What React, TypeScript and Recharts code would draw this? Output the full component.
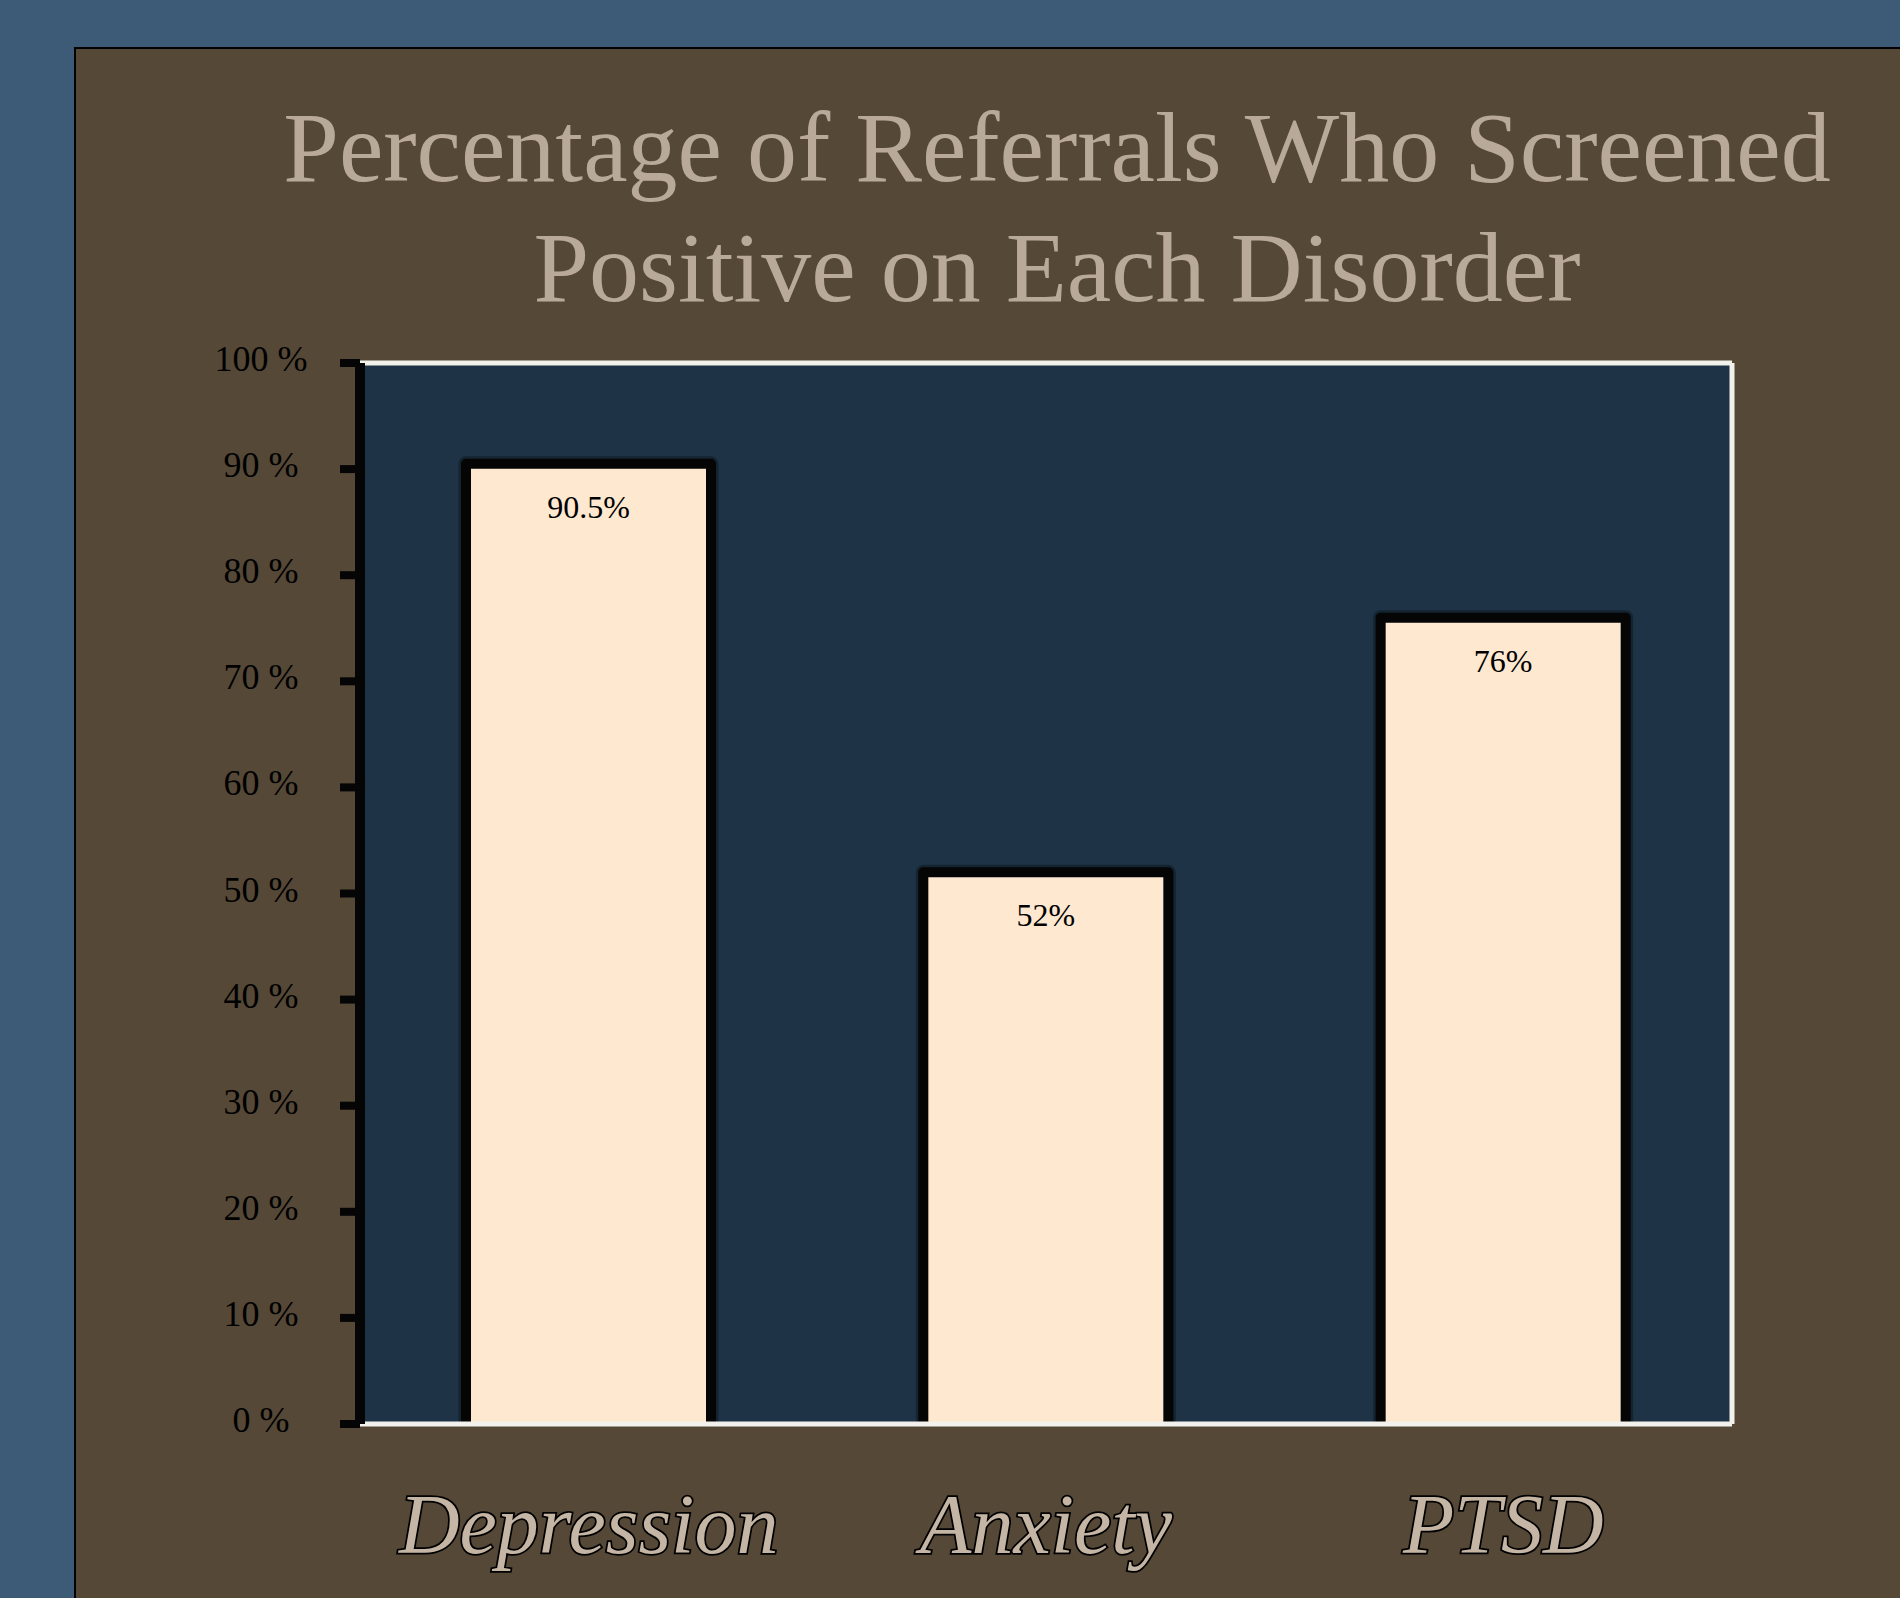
import React from "react";
import { BarChart, Bar, XAxis, YAxis, CartesianGrid, LabelList } from "recharts";

const categories = ["Depression", "Anxiety", "PTSD"];
const positiveRates = [90.5, 52, 76];
const rateLabels = ["90.5%", "52%", "76%"];
const yTicks = [0, 10, 20, 30, 40, 50, 60, 70, 80, 90, 100];
const titleLines = ["Percentage of Referrals Who Screened", "Positive on Each Disorder"];

const data = categories.map((name, i) => ({
  name,
  value: positiveRates[i],
  label: rateLabels[i],
}));

const SERIF = '"Liberation Serif", "Times New Roman", serif';

// bar with black outline on three sides (the base sits on the white axis line)
const OutlinedBar = (props: any) => {
  const { x, y, width, height } = props;
  const outline = `M${x},${y + height} L${x},${y} L${x + width},${y} L${x + width},${y + height}`;
  return (
    <g>
      <path d={outline} fill="none" stroke="#000" strokeOpacity={0.3} strokeWidth={15} strokeLinejoin="round" />
      <rect x={x} y={y} width={width} height={height} fill="#fee8d0" />
      <path d={outline} fill="none" stroke="#050505" strokeWidth={10} strokeLinejoin="round" />
    </g>
  );
};

const YTick = (props: any) => {
  const { x, y, payload } = props;
  return (
    <text x={x - 34} y={y - 4} textAnchor="middle" dominantBaseline="central" fontFamily={SERIF} fontSize={36} fill="#000">
      {`${payload.value} %`}
    </text>
  );
};

const XTick = (props: any) => {
  const { x, y, payload } = props;
  return (
    <text
      x={x}
      y={y + 121}
      textAnchor="middle"
      fontFamily={SERIF}
      fontStyle="italic"
      fontSize={84}
      fill="#c4b5a4"
      stroke="#000"
      strokeWidth={3.5}
      paintOrder="stroke"
    >
      {payload.value}
    </text>
  );
};

const ValueLabel = (props: any) => {
  const { x, y, width, value } = props;
  return (
    <text x={x + width / 2} y={y + 43} textAnchor="middle" dominantBaseline="central" fontFamily={SERIF} fontSize={32} fill="#000">
      {value}
    </text>
  );
};

export default function App() {
  return (
    <div style={{ position: "absolute", left: 0, top: 0, width: 1900, height: 1598, background: "#3d5a77", overflow: "hidden" }}>
      <div
        style={{
          position: "absolute",
          left: 74,
          top: 47,
          width: 1900,
          height: 1700,
          background: "#554837",
          border: "2px solid #000",
        }}
      />
      {titleLines.map((line, i) => (
        <div
          key={line}
          style={{
            position: "absolute",
            left: 57,
            top: 98 + i * 120,
            width: 2000,
            textAlign: "center",
            fontFamily: SERIF,
            fontSize: 100,
            lineHeight: "100px",
            color: "#b8a999",
            whiteSpace: "nowrap",
          }}
        >
          {line}
        </div>
      ))}
      <div style={{ position: "absolute", left: 0, top: 0 }}>
        <BarChart
          width={1900}
          height={1598}
          data={data}
          margin={{ top: 363, right: 168, bottom: 74, left: 260 }}
          barSize={245}
        >
          {/* navy plot background with a white edge on the top and right */}
          <CartesianGrid
            fill="#1e3345"
            stroke="#f3f1ec"
            strokeWidth={5}
            horizontalCoordinatesGenerator={({ offset }: any) => [offset.top]}
            verticalCoordinatesGenerator={({ offset }: any) => [offset.left + offset.width]}
          />
          <XAxis
            dataKey="name"
            height={100}
            tickLine={false}
            axisLine={{ stroke: "#f3f1ec", strokeWidth: 5 }}
            tick={<XTick />}
            interval={0}
          />
          <YAxis
            width={100}
            domain={[0, 100]}
            ticks={yTicks}
            interval={0}
            tickSize={20}
            tickMargin={45}
            tickLine={{ stroke: "#050505", strokeWidth: 8 }}
            axisLine={{ stroke: "#050505", strokeWidth: 10 }}
            tick={<YTick />}
          />
          <Bar dataKey="value" shape={<OutlinedBar />} isAnimationActive={false}>
            <LabelList dataKey="label" content={<ValueLabel />} />
          </Bar>
        </BarChart>
      </div>
    </div>
  );
}
